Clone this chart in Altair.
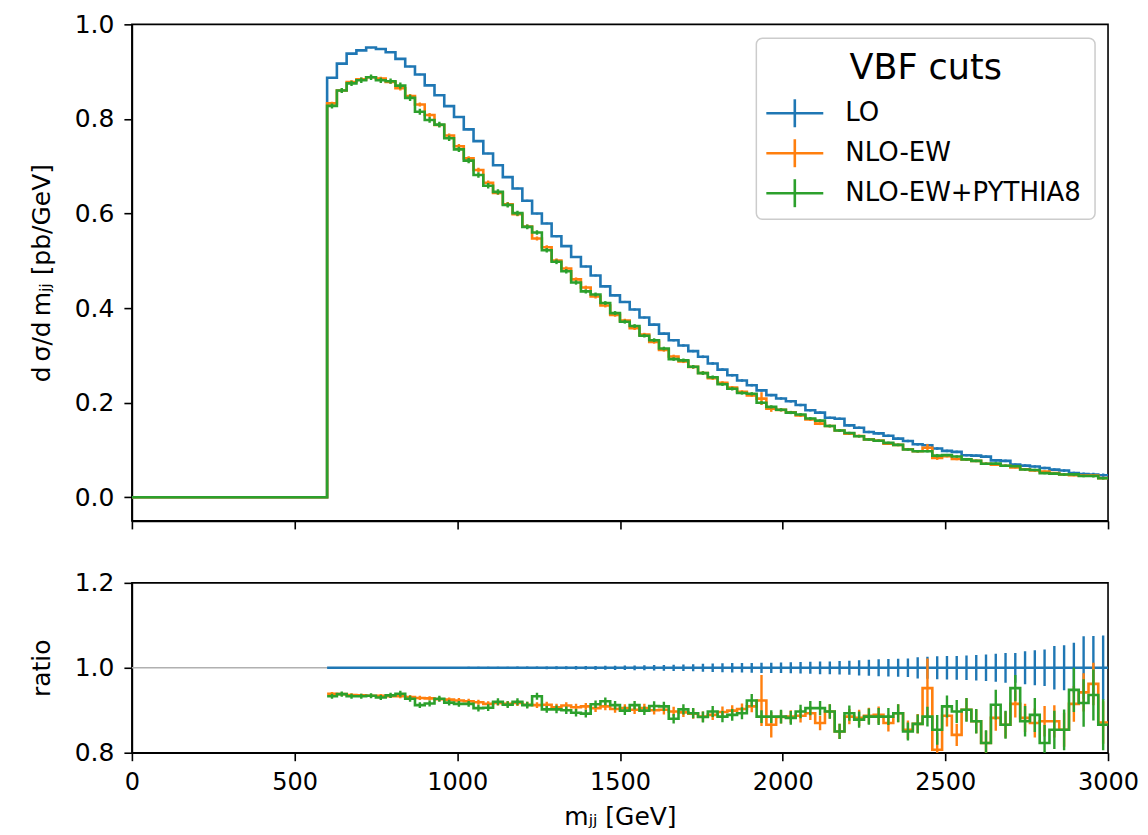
import altair as alt
import pandas as pd

# ---------------- data ----------------
# left edges of the 30 GeV bins from 600 to 3000 GeV (0-600 GeV is empty)
left_edges = list(range(600, 3000, 30))
upper_edge = 3000
half_bin = 15

series_names = ["LO", "NLO-EW", "NLO-EW+PYTHIA8"]
series_colors = ["#1f77b4", "#ff7f0e", "#2ca02c"]

# LO differential cross section [pb/GeV], one value per bin
lo_values = [
    0.887, 0.917, 0.938, 0.945, 0.951, 0.948, 0.941, 0.927, 0.911, 0.894,
    0.871, 0.850, 0.827, 0.804, 0.778, 0.753, 0.727, 0.702, 0.677, 0.653,
    0.627, 0.600, 0.579, 0.552, 0.531, 0.508, 0.488, 0.469, 0.446, 0.427,
    0.413, 0.397, 0.380, 0.365, 0.346, 0.332, 0.321, 0.309, 0.297, 0.283,
    0.270, 0.258, 0.247, 0.237, 0.226, 0.216, 0.209, 0.203, 0.195, 0.184,
    0.179, 0.168, 0.166, 0.152, 0.147, 0.138, 0.135, 0.130, 0.124, 0.119,
    0.112, 0.110, 0.103, 0.098, 0.096, 0.089, 0.088, 0.086, 0.078, 0.077,
    0.069, 0.067, 0.065, 0.062, 0.0585, 0.0565, 0.051, 0.049, 0.048, 0.0465,
]

# ratio NLO-EW / LO
ratio_nlo = [
    0.939, 0.938, 0.936, 0.935, 0.934, 0.934, 0.933, 0.933, 0.931, 0.929,
    0.928, 0.926, 0.925, 0.923, 0.921, 0.919, 0.915, 0.917, 0.915, 0.917,
    0.913, 0.912, 0.913, 0.907, 0.911, 0.907, 0.909, 0.905, 0.909, 0.903,
    0.905, 0.901, 0.905, 0.900, 0.901, 0.897, 0.895, 0.892, 0.885, 0.889,
    0.896, 0.899, 0.903, 0.909, 0.923, 0.866, 0.884, 0.885, 0.887, 0.893,
    0.870, 0.897, 0.850, 0.885, 0.882, 0.887, 0.889, 0.870, 0.893, 0.854,
    0.868, 0.952, 0.807, 0.887, 0.842, 0.901, 0.874, 0.823, 0.882, 0.866,
    0.915, 0.882, 0.870, 0.874, 0.874, 0.854, 0.915, 0.942, 0.962, 0.871,
]

# ratio NLO-EW+PYTHIA8 / LO
ratio_py = [
    0.933, 0.938, 0.933, 0.933, 0.934, 0.930, 0.935, 0.939, 0.927, 0.912,
    0.916, 0.927, 0.918, 0.915, 0.915, 0.905, 0.906, 0.920, 0.913, 0.920,
    0.912, 0.933, 0.902, 0.902, 0.900, 0.894, 0.892, 0.914, 0.921, 0.912,
    0.899, 0.912, 0.899, 0.910, 0.909, 0.880, 0.902, 0.893, 0.884, 0.897,
    0.885, 0.889, 0.893, 0.923, 0.885, 0.885, 0.885, 0.882, 0.897, 0.905,
    0.905, 0.897, 0.850, 0.893, 0.878, 0.885, 0.885, 0.885, 0.893, 0.850,
    0.868, 0.885, 0.854, 0.909, 0.897, 0.901, 0.874, 0.823, 0.913, 0.866,
    0.952, 0.874, 0.889, 0.823, 0.854, 0.854, 0.948, 0.917, 0.936, 0.866,
]

# relative uncertainties (ratio units)
err_lo = [
    0.0012, 0.0012, 0.0013, 0.0013, 0.0014, 0.0014, 0.0015, 0.0016, 0.0016, 0.0017,
    0.0018, 0.0019, 0.0020, 0.0021, 0.0022, 0.0023, 0.0024, 0.0025, 0.0027, 0.0028,
    0.0030, 0.0031, 0.0033, 0.0035, 0.0037, 0.0039, 0.0041, 0.0044, 0.0047, 0.0050,
    0.0053, 0.0056, 0.0060, 0.0064, 0.0068, 0.0073, 0.0078, 0.0083, 0.0095, 0.0100,
    0.0105, 0.0110, 0.0110, 0.0115, 0.0120, 0.0120, 0.0125, 0.0130, 0.0135, 0.0140,
    0.0150, 0.0150, 0.0160, 0.0165, 0.0180, 0.0190, 0.0200, 0.0205, 0.0210, 0.0220,
    0.0250, 0.0260, 0.0270, 0.0275, 0.0280, 0.0290, 0.0300, 0.0310, 0.0330, 0.0350,
    0.0350, 0.0390, 0.0410, 0.0430, 0.0510, 0.0530, 0.0590, 0.0740, 0.0750, 0.0760,
]
err_nlo = [
    0.004, 0.004, 0.004, 0.004, 0.004, 0.004, 0.004, 0.005, 0.005, 0.005,
    0.005, 0.005, 0.005, 0.006, 0.006, 0.006, 0.006, 0.006, 0.007, 0.007,
    0.007, 0.007, 0.007, 0.008, 0.008, 0.008, 0.008, 0.009, 0.009, 0.009,
    0.009, 0.010, 0.010, 0.010, 0.011, 0.011, 0.011, 0.012, 0.012, 0.012,
    0.013, 0.013, 0.013, 0.014, 0.060, 0.030, 0.015, 0.015, 0.016, 0.016,
    0.017, 0.017, 0.018, 0.018, 0.019, 0.019, 0.020, 0.020, 0.021, 0.022,
    0.023, 0.070, 0.040, 0.025, 0.026, 0.027, 0.028, 0.029, 0.030, 0.031,
    0.032, 0.033, 0.034, 0.036, 0.038, 0.040, 0.042, 0.045, 0.050, 0.050,
]
err_py = [
    0.006, 0.006, 0.006, 0.006, 0.006, 0.006, 0.006, 0.007, 0.007, 0.007,
    0.007, 0.007, 0.007, 0.007, 0.007, 0.008, 0.008, 0.008, 0.008, 0.008,
    0.008, 0.008, 0.008, 0.009, 0.009, 0.009, 0.009, 0.009, 0.009, 0.010,
    0.010, 0.010, 0.010, 0.011, 0.011, 0.011, 0.012, 0.012, 0.013, 0.013,
    0.013, 0.014, 0.014, 0.015, 0.015, 0.015, 0.016, 0.016, 0.016, 0.017,
    0.017, 0.017, 0.018, 0.018, 0.019, 0.019, 0.020, 0.020, 0.021, 0.021,
    0.022, 0.023, 0.035, 0.026, 0.027, 0.028, 0.029, 0.030, 0.035, 0.033,
    0.031, 0.036, 0.040, 0.042, 0.045, 0.048, 0.052, 0.056, 0.060, 0.060,
]

# ---------------- derived tables ----------------
nlo_values = [l * r for l, r in zip(lo_values, ratio_nlo)]
py_values = [l * r for l, r in zip(lo_values, ratio_py)]
top_values = [lo_values, nlo_values, py_values]
top_errors = [
    [l * e for l, e in zip(lo_values, err_lo)],
    [l * e for l, e in zip(lo_values, err_nlo)],
    [l * e for l, e in zip(lo_values, err_py)],
]
ratio_values = [[1.0] * len(lo_values), ratio_nlo, ratio_py]
ratio_errors = [err_lo, err_nlo, err_py]


def step_table(values, with_zero_region):
    xs = list(left_edges) + [upper_edge]
    ys = list(values) + [values[-1]]
    if with_zero_region:
        xs = [0] + xs
        ys = [0.0] + ys
    return pd.DataFrame({"x": xs, "y": ys})


def err_table(values, errors):
    return pd.DataFrame({
        "xc": [e + half_bin for e in left_edges],
        "lo": [v - s for v, s in zip(values, errors)],
        "hi": [v + s for v, s in zip(values, errors)],
    })


FONT = "DejaVu Sans"
W = 977
H_TOP = 497
H_BOT = 170
LW = 2.6

x_scale = alt.Scale(domain=[0, 3000], nice=False, zero=False)
y_top_scale = alt.Scale(domain=[-0.05, 1.0], nice=False, zero=False)
y_rat_scale = alt.Scale(domain=[0.8, 1.2], nice=False, zero=False)

x_ticks = [0, 500, 1000, 1500, 2000, 2500, 3000]
x_axis_top = alt.Axis(values=x_ticks, labels=False, title=None)
x_axis_bot = alt.Axis(values=x_ticks, format="d", labelFlush=False, labelFontSize=24,
                      title="m\u2C7C\u2C7C [GeV]", titlePadding=10)
y_axis_top = alt.Axis(values=[0.0, 0.2, 0.4, 0.6, 0.8, 1.0], format=".1f",
                      title="d\u2009\u03c3/d\u2009m\u2C7C\u2C7C [pb/GeV]", titlePadding=20)
y_axis_bot = alt.Axis(values=[0.8, 1.0, 1.2], format=".1f", title="ratio", titlePadding=20)

# ---------------- top panel ----------------
top_layers = []
for i in range(3):
    top_layers.append(
        alt.Chart(step_table(top_values[i], True)).mark_line(
            interpolate="step-after", color=series_colors[i], strokeWidth=LW, clip=True
        ).encode(
            x=alt.X("x:Q", scale=x_scale, axis=x_axis_top),
            y=alt.Y("y:Q", scale=y_top_scale, axis=y_axis_top),
        )
    )
    top_layers.append(
        alt.Chart(err_table(top_values[i], top_errors[i])).mark_rule(
            color=series_colors[i], strokeWidth=2.4, clip=True
        ).encode(
            x=alt.X("xc:Q", scale=x_scale, axis=x_axis_top),
            y=alt.Y("lo:Q", scale=y_top_scale, axis=y_axis_top),
            y2="hi:Q",
        )
    )

# manual legend (pixel positions inside the top plot area)
one = pd.DataFrame({"k": [0]})
legend_layers = [
    alt.Chart(one).mark_rect(fill="white", fillOpacity=0.8, stroke="#cccccc",
                             strokeWidth=1.5, cornerRadius=6).encode(
        x=alt.value(625), x2=alt.value(964), y=alt.value(14), y2=alt.value(195)),
    alt.Chart(one).mark_text(font=FONT, fontSize=35, align="center", baseline="middle",
                             color="black").encode(
        x=alt.value(794.5), y=alt.value(44), text=alt.value("VBF cuts")),
]
for i, name in enumerate(series_names):
    yrow = 89 + 40 * i
    legend_layers += [
        alt.Chart(one).mark_rule(color=series_colors[i], strokeWidth=LW).encode(
            x=alt.value(635), x2=alt.value(692), y=alt.value(yrow)),
        alt.Chart(one).mark_rule(color=series_colors[i], strokeWidth=LW).encode(
            x=alt.value(663.5), y=alt.value(yrow - 14), y2=alt.value(yrow + 14)),
        alt.Chart(one).mark_text(font=FONT, fontSize=26, align="left", baseline="middle",
                                 color="black").encode(
            x=alt.value(714), y=alt.value(yrow), text=alt.value(name)),
    ]

top = alt.layer(*top_layers, *legend_layers).properties(width=W, height=H_TOP)

# ---------------- ratio panel ----------------
rat_layers = [
    alt.Chart(pd.DataFrame({"y": [1.0]})).mark_rule(color="#b0b0b0", strokeWidth=1.6).encode(
        y=alt.Y("y:Q", scale=y_rat_scale, axis=y_axis_bot)
    )
]
for i in range(3):
    rat_layers.append(
        alt.Chart(step_table(ratio_values[i], False)).mark_line(
            interpolate="step-after", color=series_colors[i], strokeWidth=LW, clip=True
        ).encode(
            x=alt.X("x:Q", scale=x_scale, axis=x_axis_bot),
            y=alt.Y("y:Q", scale=y_rat_scale, axis=y_axis_bot),
        )
    )
    rat_layers.append(
        alt.Chart(err_table(ratio_values[i], ratio_errors[i])).mark_rule(
            color=series_colors[i], strokeWidth=2.4, clip=True
        ).encode(
            x=alt.X("xc:Q", scale=x_scale, axis=x_axis_bot),
            y=alt.Y("lo:Q", scale=y_rat_scale, axis=y_axis_bot),
            y2="hi:Q",
        )
    )

bottom = alt.layer(*rat_layers).properties(width=W, height=H_BOT)

chart = (
    alt.vconcat(top, bottom, spacing=39)
    .properties(padding={"left": 20, "top": 3, "right": 0, "bottom": 0})
    .configure_view(stroke="black", strokeWidth=1.6)
    .configure_axis(
        labelFont=FONT, labelFontSize=25, labelColor="black", labelPadding=10,
        titleFont=FONT, titleFontSize=25, titleFontWeight="normal", titleColor="black",
        tickSize=8, tickWidth=1.6, tickColor="black",
        domainColor="black", domainWidth=1.6, grid=False,
    )
)

chart.save("out.html", embed_options={"renderer": "svg", "actions": False})
